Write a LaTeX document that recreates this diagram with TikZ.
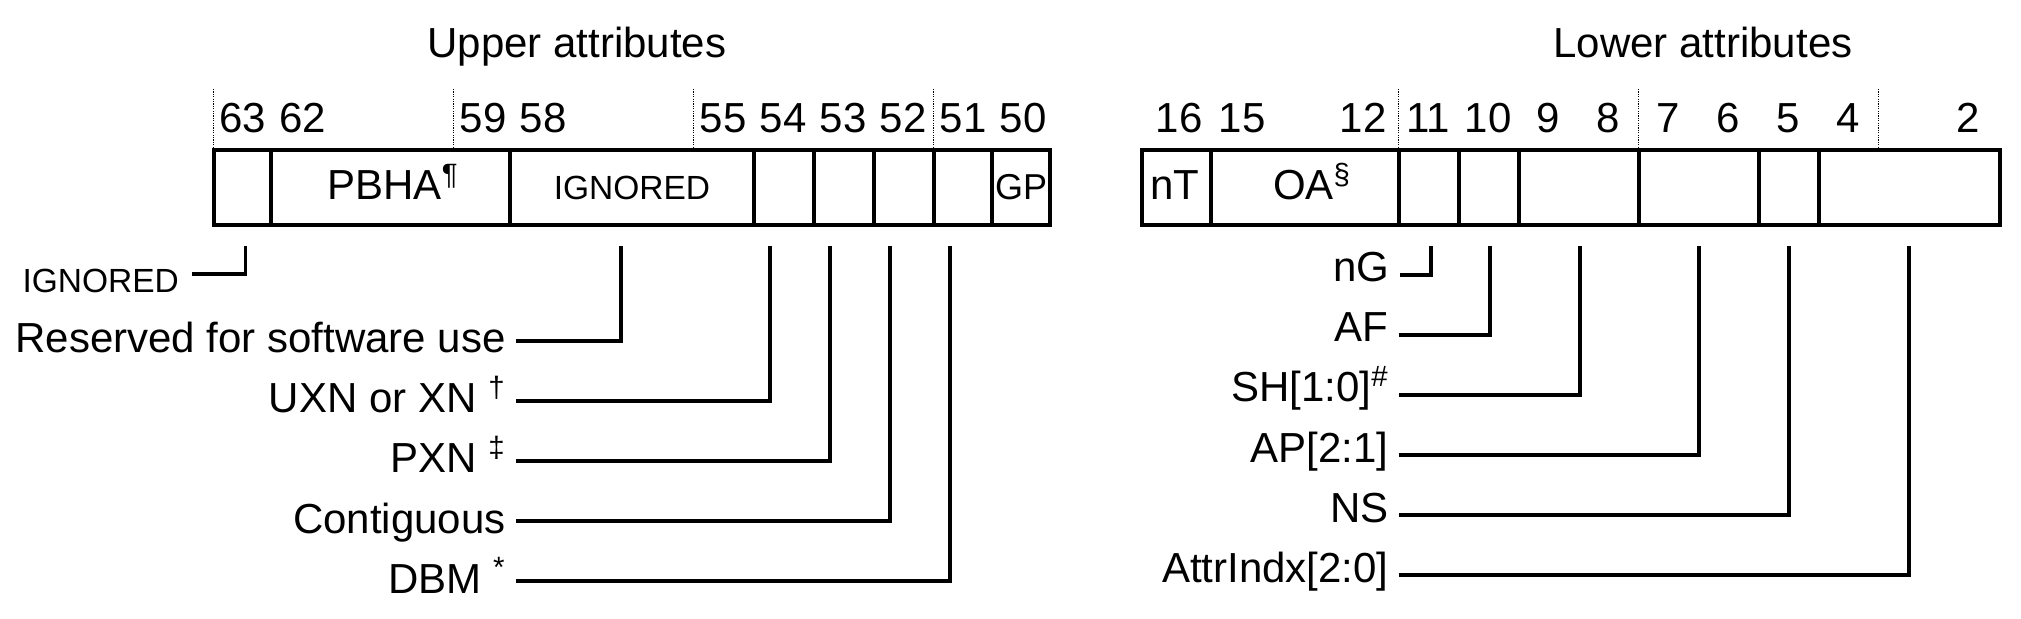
\documentclass[tikz,border=0pt]{standalone}
\usepackage{fontspec}
\setmainfont{Liberation Sans}
\usetikzlibrary{positioning}
\newcommand{\bigtxt}{\fontsize{21}{25}\selectfont}
\newcommand{\midtxt}{\fontsize{18}{22}\selectfont}
\newcommand{\smalltxt}{\fontsize{16.75}{20}\selectfont}

\begin{document}
\begin{tikzpicture}[x=.5pt,y=-.5pt,
  box/.style={line width=2pt},
  conn/.style={line width=1.75pt},
  nibble/.style={line width=.5pt,dash pattern=on .6pt off .6pt},
  bitnum/.style={anchor=base,font=\bigtxt,inner sep=0pt},
  field/.style={anchor=base,inner sep=0pt},
  ulbl/.style={anchor=east,font=\bigtxt,text height=16pt,text depth=4pt,inner xsep=5pt,inner ysep=0pt},
  llbl/.style={anchor=east,font=\bigtxt,text height=14pt,text depth=7pt,inner xsep=5pt,inner ysep=0pt}]
\useasboundingbox (0,0) rectangle (2021,619);
\node[bitnum] (uptitle) at (577,57.3) {Upper attributes};
\node[bitnum] (lotitle) at (1703,57.3) {Lower attributes};
%upper attributes
\foreach \x in {213.5,453.5,693.5,933.5} \draw[nibble] (\x,89) -- (\x,150);
\foreach \b in {63,62,59,58,55,54,53,52,51,50}
  \node[bitnum] (u\b) at ({243+60*(63-\b)},132.7) {\b};
\draw[box] (213.5,150) rectangle (1049.5,225);
\foreach \x in {270.7,510.3,753.7,813.7,873.7,933.7,992} \draw[box] (\x,150) -- (\x,225);
\node[field,font=\bigtxt] (pbha) at (393,200) {PBHA\textsuperscript{¶}};
\node[field,font=\smalltxt] (ign58) at (632,200) {IGNORED};
\node[field,font=\midtxt] (gp) at (1021,200) {GP};
\coordinate (c63) at (245.7,246);
\coordinate (c58) at (621,246);
\coordinate (c54) at (770,246);
\coordinate (c53) at (830,246);
\coordinate (c52) at (890,246);
\coordinate (c51) at (950,246);
\coordinate (e63) at (192,274);
\node[font=\smalltxt,left=3pt of e63,yshift=-3.5pt] (ign63) {IGNORED};
\node[ulbl] (rsv) at (516,341) {Reserved for software use};
\node[ulbl] (uxn) at (516,401) {UXN or XN \textsuperscript{†}};
\node[ulbl] (pxn) at (516,461) {PXN \textsuperscript{‡}};
\node[ulbl] (cont) at (516,521) {Contiguous};
\node[ulbl] (dbm) at (516,581) {DBM \textsuperscript{*}};
\draw[conn] (c63) |- (e63);
\draw[conn] (c58) |- (rsv.east);
\draw[conn] (c54) |- (uxn.east);
\draw[conn] (c53) |- (pxn.east);
\draw[conn] (c52) |- (cont.east);
\draw[conn] (c51) |- (dbm.east);
%lower attributes
\foreach \x in {1398.7,1638.7,1878.7} \draw[nibble] (\x,89) -- (\x,150);
\node[bitnum] (l16) at (1179,132.7) {16};
\node[bitnum] (l15) at (1242,132.7) {15};
\node[bitnum] (l12) at (1363,132.7) {12};
\foreach \b in {11,10,9,8,7,6,5,4,2}
  \node[bitnum] (l\b) at ({1428+60*(11-\b)},132.7) {\b};
\draw[box] (1142,150) rectangle (2000,225);
\foreach \x in {1211.3,1398.7,1458.7,1518.7,1638.7,1758.7,1818.7} \draw[box] (\x,150) -- (\x,225);
\node[field,font=\bigtxt] (nt) at (1175,200) {nT};
\node[field,font=\bigtxt] (oa) at (1312,200) {OA\textsuperscript{§}};
\coordinate (c11) at (1431,246);
\coordinate (c10) at (1490,246);
\coordinate (c9) at (1580,246);
\coordinate (c7) at (1699,246);
\coordinate (c5) at (1789,246);
\coordinate (c4) at (1909,246);
\node[llbl] (ng) at (1400,275) {nG};
\node[llbl] (af) at (1399,335) {AF};
\node[llbl] (sh) at (1399,395) {SH[1:0]\textsuperscript{\#}};
\node[llbl] (ap) at (1399,455) {AP[2:1]};
\node[llbl] (ns) at (1399,515) {NS};
\node[llbl] (attr) at (1399,575) {AttrIndx[2:0]};
\draw[conn] (c11) |- (ng.east);
\draw[conn] (c10) |- (af.east);
\draw[conn] (c9) |- (sh.east);
\draw[conn] (c7) |- (ap.east);
\draw[conn] (c5) |- (ns.east);
\draw[conn] (c4) |- (attr.east);
\end{tikzpicture}
\end{document}
